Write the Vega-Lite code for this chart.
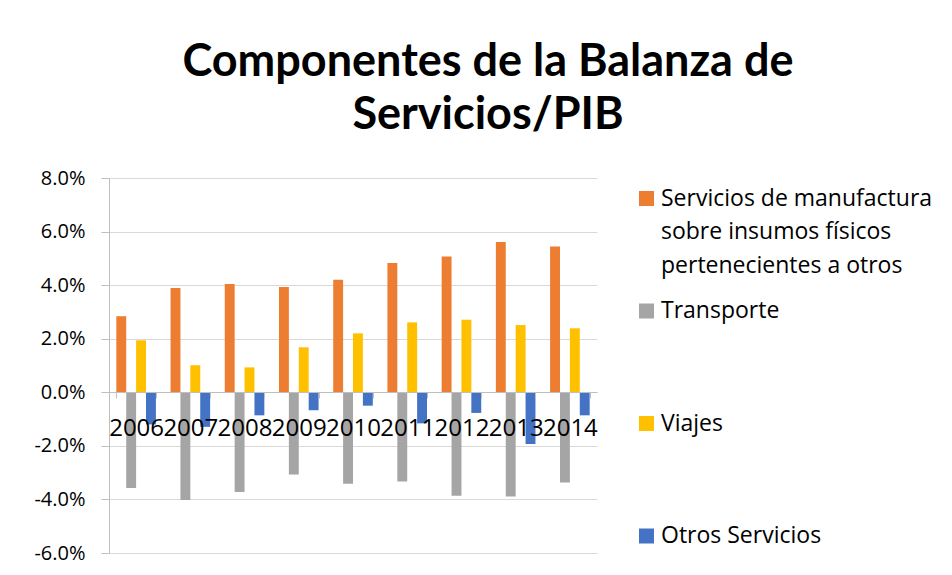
{
  "$schema": "https://vega.github.io/schema/vega-lite/v6.json",
  "width": 488,
  "height": 375,
  "autosize": {"type": "pad"},
  "padding": {"left": 33, "top": 40, "right": 5, "bottom": 5},
  "background": "white",
  "title": {
    "text": ["Componentes de la Balanza de", "Servicios/PIB"],
    "font": "Lato",
    "fontSize": 45,
    "fontWeight": "bold",
    "color": "black",
    "anchor": "middle",
    "frame": "bounds",
    "lineHeight": 53,
    "offset": 30
  },
  "data": {
    "values": [
      {"year": "2006", "series": "Servicios de manufactura sobre insumos físicos pertenecientes a otros", "value": 0.0284},
      {"year": "2006", "series": "Transporte", "value": -0.0357},
      {"year": "2006", "series": "Viajes", "value": 0.0194},
      {"year": "2006", "series": "Otros Servicios", "value": -0.0120},
      {"year": "2007", "series": "Servicios de manufactura sobre insumos físicos pertenecientes a otros", "value": 0.0389},
      {"year": "2007", "series": "Transporte", "value": -0.0402},
      {"year": "2007", "series": "Viajes", "value": 0.0101},
      {"year": "2007", "series": "Otros Servicios", "value": -0.0129},
      {"year": "2008", "series": "Servicios de manufactura sobre insumos físicos pertenecientes a otros", "value": 0.0404},
      {"year": "2008", "series": "Transporte", "value": -0.0372},
      {"year": "2008", "series": "Viajes", "value": 0.0093},
      {"year": "2008", "series": "Otros Servicios", "value": -0.0086},
      {"year": "2009", "series": "Servicios de manufactura sobre insumos físicos pertenecientes a otros", "value": 0.0393},
      {"year": "2009", "series": "Transporte", "value": -0.0307},
      {"year": "2009", "series": "Viajes", "value": 0.0168},
      {"year": "2009", "series": "Otros Servicios", "value": -0.0067},
      {"year": "2010", "series": "Servicios de manufactura sobre insumos físicos pertenecientes a otros", "value": 0.0420},
      {"year": "2010", "series": "Transporte", "value": -0.0341},
      {"year": "2010", "series": "Viajes", "value": 0.0220},
      {"year": "2010", "series": "Otros Servicios", "value": -0.0050},
      {"year": "2011", "series": "Servicios de manufactura sobre insumos físicos pertenecientes a otros", "value": 0.0483},
      {"year": "2011", "series": "Transporte", "value": -0.0333},
      {"year": "2011", "series": "Viajes", "value": 0.0261},
      {"year": "2011", "series": "Otros Servicios", "value": -0.0116},
      {"year": "2012", "series": "Servicios de manufactura sobre insumos físicos pertenecientes a otros", "value": 0.0507},
      {"year": "2012", "series": "Transporte", "value": -0.0386},
      {"year": "2012", "series": "Viajes", "value": 0.0271},
      {"year": "2012", "series": "Otros Servicios", "value": -0.0077},
      {"year": "2013", "series": "Servicios de manufactura sobre insumos físicos pertenecientes a otros", "value": 0.0561},
      {"year": "2013", "series": "Transporte", "value": -0.0389},
      {"year": "2013", "series": "Viajes", "value": 0.0251},
      {"year": "2013", "series": "Otros Servicios", "value": -0.0193},
      {"year": "2014", "series": "Servicios de manufactura sobre insumos físicos pertenecientes a otros", "value": 0.0544},
      {"year": "2014", "series": "Transporte", "value": -0.0337},
      {"year": "2014", "series": "Viajes", "value": 0.0239},
      {"year": "2014", "series": "Otros Servicios", "value": -0.0086}
    ]
  },
  "mark": {"type": "bar"},
  "encoding": {
    "x": {
      "field": "year",
      "type": "nominal",
      "scale": {"paddingInner": 0.27, "paddingOuter": 0.135},
      "axis": {
        "title": null,
        "zindex": 2,
        "labelAngle": 0,
        "labelFont": "Open Sans",
        "labelFontSize": 24,
        "labelColor": "black",
        "labelOverlap": false,
        "labelBound": false,
        "labelFlush": false,
        "offset": -161,
        "tickBand": "extent",
        "tickSize": 6,
        "tickColor": "#bfbfbf",
        "domainColor": "#bfbfbf",
        "labelPadding": 18,
        "grid": false
      }
    },
    "xOffset": {
      "field": "series",
      "type": "nominal",
      "sort": ["Servicios de manufactura sobre insumos físicos pertenecientes a otros", "Transporte", "Viajes", "Otros Servicios"],
      "scale": {"paddingInner": 0, "paddingOuter": 0}
    },
    "y": {
      "field": "value",
      "type": "quantitative",
      "scale": {"domain": [-0.06, 0.08], "nice": false, "zero": true},
      "axis": {
        "title": null,
        "values": [-0.06, -0.04, -0.02, 0, 0.02, 0.04, 0.06, 0.08],
        "format": ".1%",
        "labelFont": "Open Sans",
        "labelFontSize": 20,
        "labelColor": "black",
        "labelPadding": 16,
        "tickSize": 8,
        "tickColor": "#bfbfbf",
        "domainColor": "#bfbfbf",
        "gridColor": "#d9d9d9",
        "gridWidth": 1
      }
    },
    "color": {
      "field": "series",
      "type": "nominal",
      "sort": ["Servicios de manufactura sobre insumos físicos pertenecientes a otros", "Transporte", "Viajes", "Otros Servicios"],
      "scale": {
        "domain": ["Servicios de manufactura sobre insumos físicos pertenecientes a otros", "Transporte", "Viajes", "Otros Servicios"],
        "range": ["#ED7D31", "#A5A5A5", "#FFC000", "#4472C4"]
      },
      "legend": {
        "title": null,
        "orient": "right",
        "offset": 29,
        "symbolType": "square",
        "symbolSize": 225,
        "symbolStrokeWidth": 0,
        "labelFont": "Open Sans",
        "labelFontSize": 23,
        "labelColor": "black",
        "labelLimit": 400,
        "labelOffset": 3,
        "labelBaseline": "middle",
        "gridAlign": "all",
        "rowPadding": 21.5,
        "padding": 9,
        "labelExpr": "datum.label == 'Servicios de manufactura sobre insumos físicos pertenecientes a otros' ? ['Servicios de manufactura', 'sobre insumos físicos', 'pertenecientes a otros'] : datum.label"
      }
    }
  },
  "config": {
    "view": {"stroke": null},
    "locale": {"number": {"decimal": ".", "thousands": ",", "grouping": [3], "currency": ["$", ""], "minus": "-"}},
    "style": {"guide-label": {"lineHeight": 33.5}}
  }
}
